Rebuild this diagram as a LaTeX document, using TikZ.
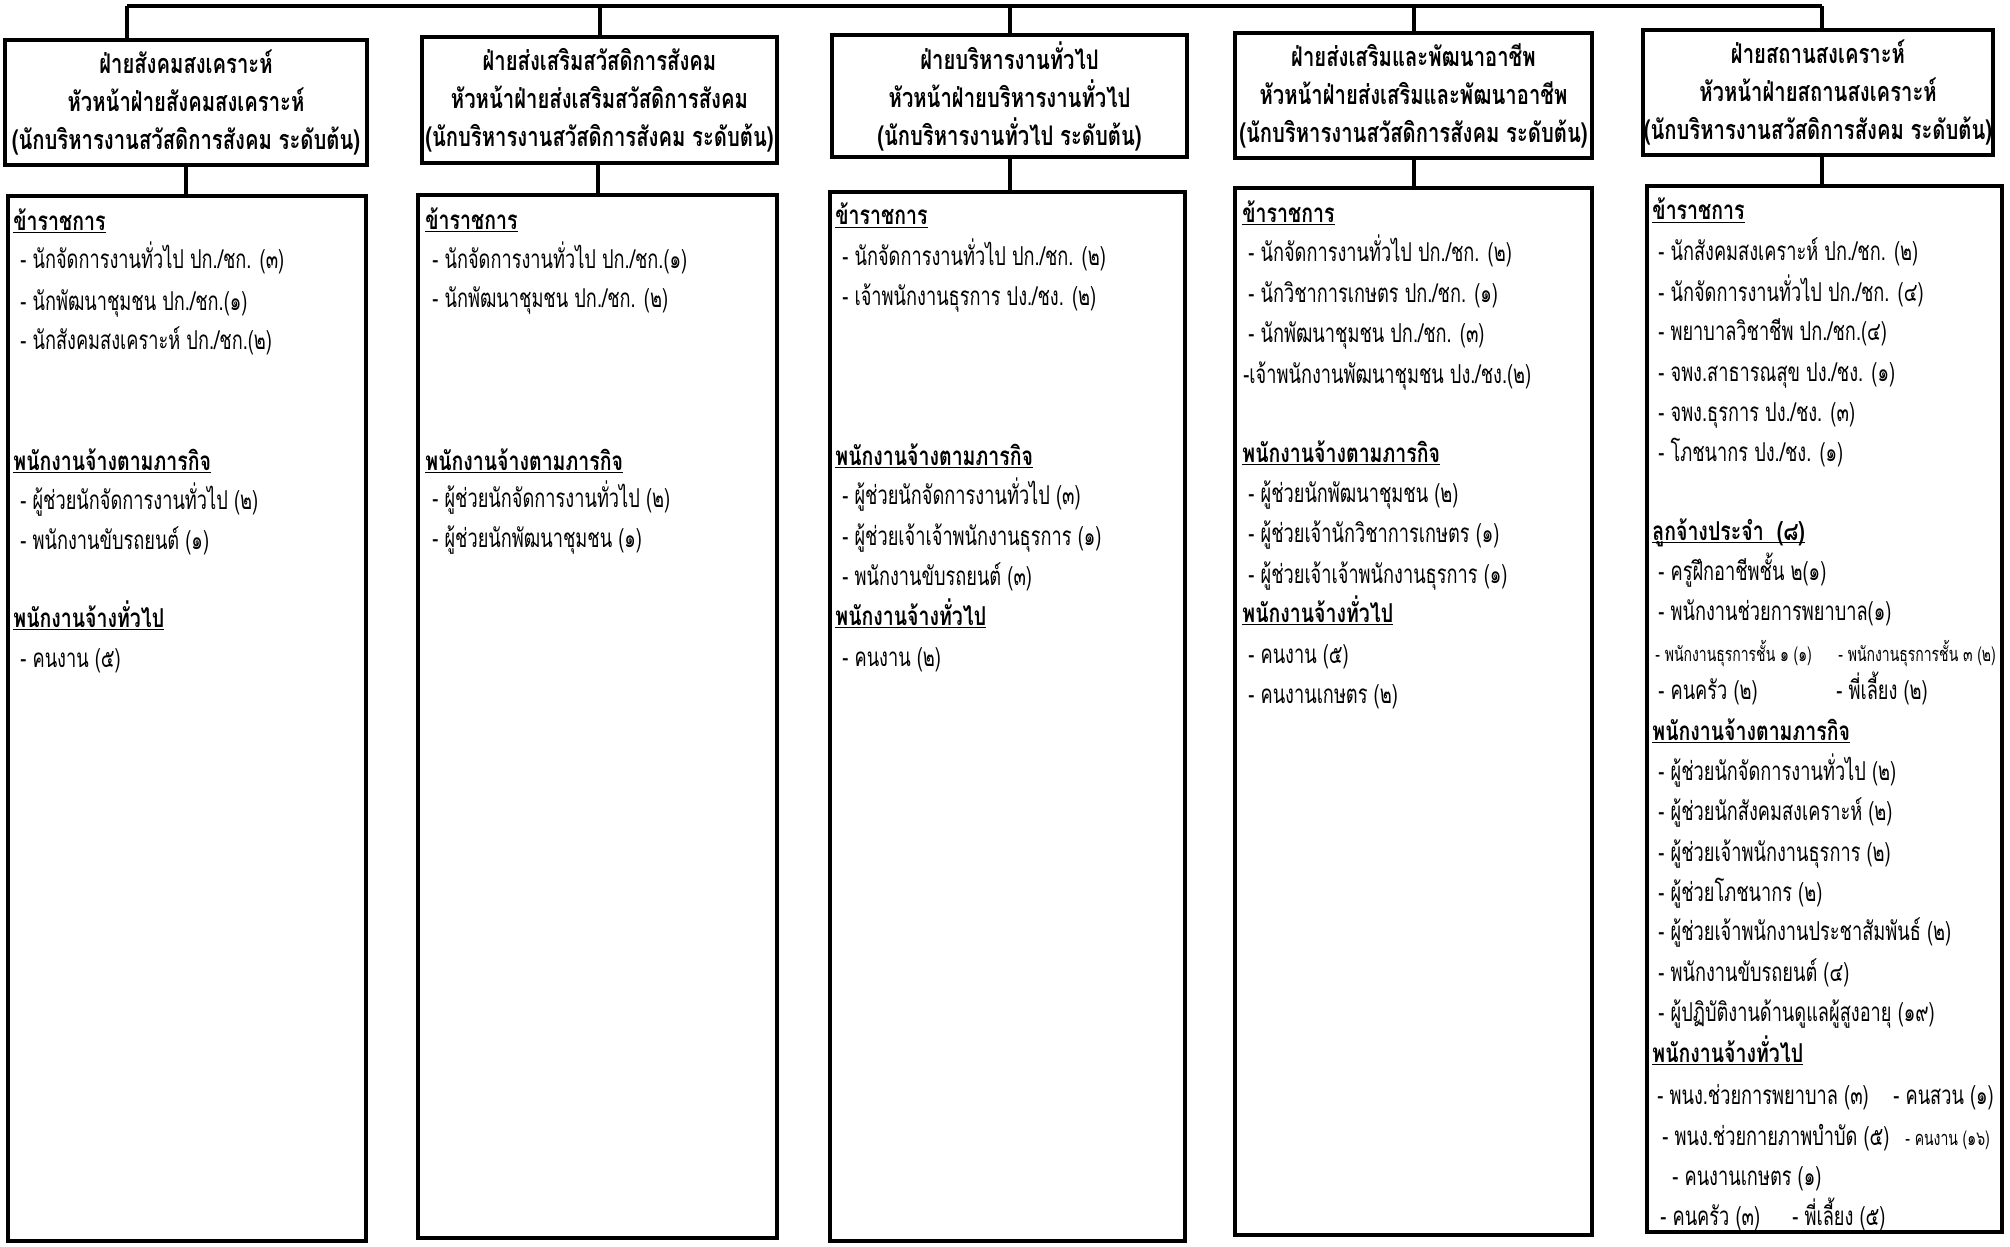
\documentclass[tikz,border=0pt]{standalone}
\usepackage{fontspec}
\setmainfont[Script=Thai,
    UprightFeatures={FakeStretch=0.7},
    BoldFeatures={FakeStretch=0.75}]{Loma}
\usetikzlibrary{positioning}
\newcommand\ulhead[1]{\setbox0\hbox{#1}\rlap{\rule[-1.6pt]{\wd0}{0.7pt}}\box0}
\tikzset{
    headbox/.style = {
        draw,
        shape=rectangle,
        minimum height=62.5pt,
        inner sep=0pt,
        line width=2.2pt,
        align=center,
        font=\bfseries\fontsize{13.5}{19}\selectfont
    },
    staffbox/.style = {
        draw,
        shape=rectangle,
        inner sep=0pt,
        line width=2.4pt
    },
    grp/.style = {
        anchor=base west,
        inner sep=0pt,
        font=\bfseries\fontsize{13}{16}\selectfont
    },
    itm/.style = {
        anchor=base west,
        inner sep=0pt,
        font=\fontsize{13}{16}\selectfont
    },
    smallitm/.style = {
        anchor=base west,
        inner sep=0pt,
        font=\fontsize{10}{13}\selectfont
    },
    link/.style = {
        draw,
        line width=2pt
    },
}

\begin{document}
\begin{tikzpicture}[x=0.5pt,y=-0.5pt]
            \useasboundingbox (0,0) rectangle (2010,1247);

            % heads
            \node[headbox, minimum width=181pt] (hd1) at (186,102.5)
            {ฝ่ายสังคมสงเคราะห์\\หัวหน้าฝ่ายสังคมสงเคราะห์\\(นักบริหารงานสวัสดิการสังคม ระดับต้น)};
            \node[headbox, minimum width=177.5pt, minimum height=63pt] (hd2) at (599.5,100)
            {ฝ่ายส่งเสริมสวัสดิการสังคม\\หัวหน้าฝ่ายส่งเสริมสวัสดิการสังคม\\(นักบริหารงานสวัสดิการสังคม ระดับต้น)};
            \node[headbox, minimum width=177.5pt, minimum height=61pt] (hd3) at (1009.5,96)
            {ฝ่ายบริหารงานทั่วไป\\หัวหน้าฝ่ายบริหารงานทั่วไป\\(นักบริหารงานทั่วไป ระดับต้น)};
            \node[headbox, minimum width=178.5pt] (hd4) at (1413.5,95.5)
            {ฝ่ายส่งเสริมและพัฒนาอาชีพ\\หัวหน้าฝ่ายส่งเสริมและพัฒนาอาชีพ\\(นักบริหารงานสวัสดิการสังคม ระดับต้น)};
            \node[headbox, minimum width=175pt] (hd5) at (1818,92.5)
            {ฝ่ายสถานสงเคราะห์\\หัวหน้าฝ่ายสถานสงเคราะห์\\(นักบริหารงานสวัสดิการสังคม ระดับต้น)};

            % staff boxes
            \node[staffbox, minimum width=179pt, minimum height=522.5pt] (st1) at (187,718.5) {};
            \node[staffbox, minimum width=179.5pt, minimum height=521.5pt] (st2) at (597.5,716.5) {};
            \node[staffbox, minimum width=177.5pt, minimum height=524.5pt] (st3) at (1007.5,716.5) {};
            \node[staffbox, minimum width=178.5pt, minimum height=523.5pt] (st4) at (1413.5,711.5) {};
            \node[staffbox, minimum width=177.5pt, minimum height=523pt] (st5) at (1824.5,709) {};

            % top bus
            \coordinate (busL) at (127,6);
            \coordinate (busR) at (1822,6);
            \path[link] (busL) -- (busR);
            \path[link] (busL) -- (busL |- hd1.north);
            \path[link] (hd2.north) -- (hd2.north |- busL);
            \path[link] (hd3.north) -- (hd3.north |- busL);
            \path[link] (hd4.north) -- (hd4.north |- busL);
            \path[link] (busR) -- (busR |- hd5.north);
            \path[link] (hd1.south) -- (hd1.south |- st1.north);
            \path[link] (st2.north) -- (st2.north |- hd2.south);
            \path[link] (hd3.south) -- (hd3.south |- st3.north);
            \path[link] (hd4.south) -- (hd4.south |- st4.north);
            \path[link] (busR |- hd5.south) -- (busR |- st5.north);

            % column 1
            \node[grp] (c1g1) at (13,230) {\ulhead{ข้าราชการ}};
            \node[itm] (c1a) at (20,269) {- นักจัดการงานทั่วไป ปก./ชก. (๓)};
            \node[itm] (c1b) at (20,310) {- นักพัฒนาชุมชน ปก./ชก.(๑)};
            \node[itm] (c1c) at (20,350) {- นักสังคมสงเคราะห์ ปก./ชก.(๒)};
            \node[grp] (c1g2) at (13,470) {\ulhead{พนักงานจ้างตามภารกิจ}};
            \node[itm] (c1d) at (20,509) {- ผู้ช่วยนักจัดการงานทั่วไป (๒)};
            \node[itm] (c1e) at (20,549) {- พนักงานขับรถยนต์ (๑)};
            \node[grp] (c1g3) at (13,627) {\ulhead{พนักงานจ้างทั่วไป}};
            \node[itm] (c1f) at (20,667) {- คนงาน (๕)};

            % column 2
            \node[grp] (c2g1) at (425,229) {\ulhead{ข้าราชการ}};
            \node[itm] (c2a) at (432,269) {- นักจัดการงานทั่วไป ปก./ชก.(๑)};
            \node[itm] (c2b) at (432,307) {- นักพัฒนาชุมชน ปก./ชก. (๒)};
            \node[grp] (c2g2) at (425,470) {\ulhead{พนักงานจ้างตามภารกิจ}};
            \node[itm] (c2c) at (432,507) {- ผู้ช่วยนักจัดการงานทั่วไป (๒)};
            \node[itm] (c2d) at (432,547) {- ผู้ช่วยนักพัฒนาชุมชน (๑)};

            % column 3
            \node[grp] (c3g1) at (835,225) {\ulhead{ข้าราชการ}};
            \node[itm] (c3a) at (842,265) {- นักจัดการงานทั่วไป ปก./ชก. (๒)};
            \node[itm] (c3b) at (842,306) {- เจ้าพนักงานธุรการ ปง./ชง. (๒)};
            \node[grp] (c3g2) at (835,465) {\ulhead{พนักงานจ้างตามภารกิจ}};
            \node[itm] (c3c) at (842,504) {- ผู้ช่วยนักจัดการงานทั่วไป (๓)};
            \node[itm] (c3d) at (842,545) {- ผู้ช่วยเจ้าเจ้าพนักงานธุรการ (๑)};
            \node[itm] (c3e) at (842,585) {- พนักงานขับรถยนต์ (๓)};
            \node[grp] (c3g3) at (835,625) {\ulhead{พนักงานจ้างทั่วไป}};
            \node[itm] (c3f) at (842,666) {- คนงาน (๒)};

            % column 4
            \node[grp] (c4g1) at (1242,222) {\ulhead{ข้าราชการ}};
            \node[itm] (c4a) at (1248,262) {- นักจัดการงานทั่วไป ปก./ชก. (๒)};
            \node[itm] (c4b) at (1248,302) {- นักวิชาการเกษตร ปก./ชก. (๑)};
            \node[itm] (c4c) at (1248,343) {- นักพัฒนาชุมชน ปก./ชก. (๓)};
            \node[itm] (c4d) at (1243,383) {-เจ้าพนักงานพัฒนาชุมชน ปง./ชง.(๒)};
            \node[grp] (c4g2) at (1242,462) {\ulhead{พนักงานจ้างตามภารกิจ}};
            \node[itm] (c4e) at (1248,502) {- ผู้ช่วยนักพัฒนาชุมชน (๒)};
            \node[itm] (c4f) at (1248,542) {- ผู้ช่วยเจ้านักวิชาการเกษตร (๑)};
            \node[itm] (c4g) at (1248,583) {- ผู้ช่วยเจ้าเจ้าพนักงานธุรการ (๑)};
            \node[grp] (c4g3) at (1242,622) {\ulhead{พนักงานจ้างทั่วไป}};
            \node[itm] (c4h) at (1248,663) {- คนงาน (๕)};
            \node[itm] (c4i) at (1248,703) {- คนงานเกษตร (๒)};

            % column 5
            \node[grp] (c5g1) at (1652,220) {\ulhead{ข้าราชการ}};
            \node[itm] (c5a) at (1658,261) {- นักสังคมสงเคราะห์ ปก./ชก. (๒)};
            \node[itm] (c5b) at (1658,301) {- นักจัดการงานทั่วไป ปก./ชก. (๔)};
            \node[itm] (c5c) at (1658,340) {- พยาบาลวิชาชีพ ปก./ชก.(๔)};
            \node[itm] (c5d) at (1658,381) {- จพง.สาธารณสุข ปง./ชง. (๑)};
            \node[itm] (c5e) at (1658,421) {- จพง.ธุรการ ปง./ชง. (๓)};
            \node[itm] (c5f) at (1658,461) {- โภชนากร ปง./ชง. (๑)};
            \node[grp] (c5g2) at (1652,540) {\ulhead{ลูกจ้างประจำ~~(๘)}};
            \node[itm] (c5h) at (1658,580) {- ครูฝึกอาชีพชั้น ๒(๑)};
            \node[itm] (c5i) at (1658,620) {- พนักงานช่วยการพยาบาล(๑)};
            \node[smallitm] (c5j) at (1655,661) {- พนักงานธุรการชั้น ๑ (๑)};
            \node[smallitm] (c5k) at (1838,661) {- พนักงานธุรการชั้น ๓ (๒)};
            \node[itm] (c5l) at (1658,699) {- คนครัว (๒)};
            \node[itm] (c5m) at (1836,699) {- พี่เลี้ยง (๒)};
            \node[grp] (c5g3) at (1652,740) {\ulhead{พนักงานจ้างตามภารกิจ}};
            \node[itm] (c5n) at (1658,780) {- ผู้ช่วยนักจัดการงานทั่วไป (๒)};
            \node[itm] (c5o) at (1658,820) {- ผู้ช่วยนักสังคมสงเคราะห์ (๒)};
            \node[itm] (c5p) at (1658,861) {- ผู้ช่วยเจ้าพนักงานธุรการ (๒)};
            \node[itm] (c5q) at (1658,901) {- ผู้ช่วยโภชนากร (๒)};
            \node[itm] (c5r) at (1658,940) {- ผู้ช่วยเจ้าพนักงานประชาสัมพันธ์ (๒)};
            \node[itm] (c5s) at (1658,981) {- พนักงานขับรถยนต์ (๔)};
            \node[itm] (c5t) at (1658,1021) {- ผู้ปฏิบัติงานด้านดูแลผู้สูงอายุ (๑๙)};
            \node[grp] (c5g4) at (1652,1062) {\ulhead{พนักงานจ้างทั่วไป}};
            \node[itm] (c5u) at (1657,1104) {- พนง.ช่วยการพยาบาล (๓)};
            \node[itm] (c5v) at (1893,1104) {- คนสวน (๑)};
            \node[itm] (c5w) at (1662,1145) {- พนง.ช่วยกายภาพบำบัด (๕)};
            \node[smallitm] (c5x) at (1905,1145) {- คนงาน (๑๖)};
            \node[itm] (c5y) at (1672,1185) {- คนงานเกษตร (๑)};
            \node[itm] (c5z) at (1660,1225) {- คนครัว (๓)};
            \node[itm] (c5zz) at (1792,1225) {- พี่เลี้ยง (๕)};
        \end{tikzpicture}
\end{document}
